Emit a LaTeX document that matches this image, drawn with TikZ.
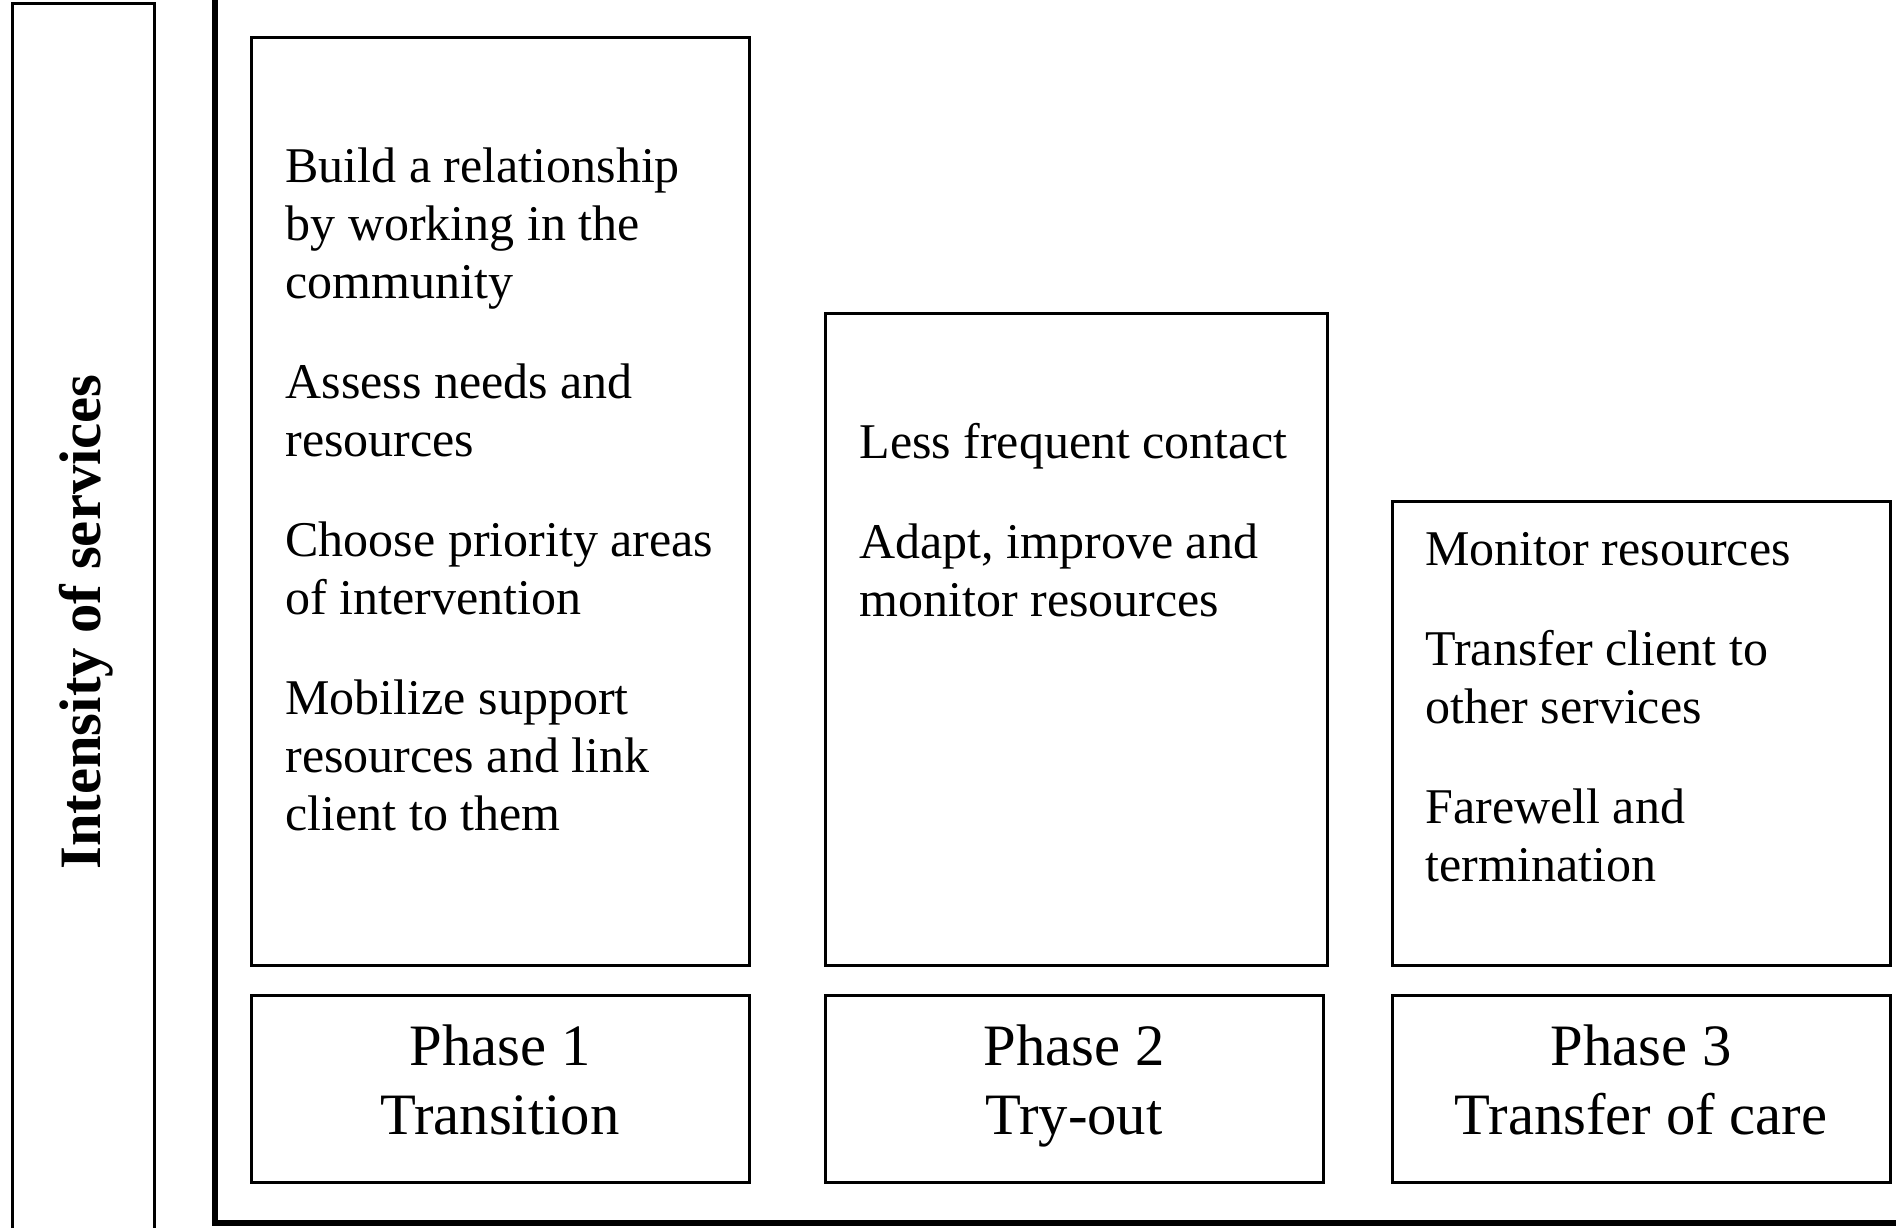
\documentclass[tikz,border=0pt]{standalone}
\usepackage{fontspec}
\setmainfont{Liberation Serif}
\usepackage{tikz}

\begin{document}
\begin{tikzpicture}[x=0.3pt,y=-0.3pt,line width=0.9pt,
  tasks/.style={anchor=base west,inner sep=0pt,align=left,
    font=\fontsize{15}{17.4}\selectfont},
  phase/.style={anchor=base,inner sep=0pt,align=center,
    font=\fontsize{17.6}{20.7}\selectfont}]
  \useasboundingbox (0,0) rectangle (1896,1228);
  % side bar and axis
  \draw (12,1228) -- (12,3) -- (154,3) -- (154,1228);
  \node[rotate=90,anchor=base,inner sep=0pt,
    font=\fontsize{17.6}{20}\selectfont\bfseries] (intensity) at (100,622) {Intensity of services};
  \draw[line width=1.8pt] (215,0) -- (215,1223) -- (1896,1223);
  % activity boxes (text placed by its last baseline)
  \draw (251,37) rectangle (749,965);
  \draw (825,313) rectangle (1327,965);
  \draw (1392,501) rectangle (1890,965);
  \node[tasks] (tasks1) at (284,830) {Build a relationship\\by working in the\\community\\[12.6pt]
    Assess needs and\\resources\\[12.6pt]
    Choose priority areas\\of intervention\\[12.6pt]
    Mobilize support\\resources and link\\client to them};
  \node[tasks] (tasks2) at (858,616) {Less frequent contact\\[12.6pt]
    Adapt, improve and\\monitor resources};
  \node[tasks] (tasks3) at (1424,881) {Monitor resources\\[12.6pt]
    Transfer client to\\other services\\[12.6pt]
    Farewell and\\termination};
  % phase boxes
  \foreach \x/\r/\n/\lbl in {251/749/1/Transition, 825/1323/2/Try-out, 1392/1890/3/Transfer of care} {
    \draw (\x,995) rectangle (\r,1182);
    \node[phase] (phase\n) at ({(\x+\r)/2},1134) {Phase \n\\\lbl};
  }
\end{tikzpicture}
\end{document}
